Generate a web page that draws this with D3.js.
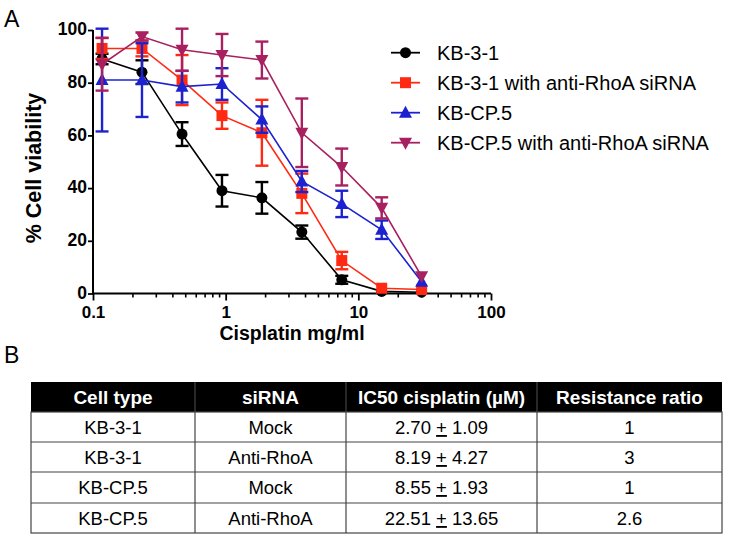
<!DOCTYPE html>
<html>
<head>
<meta charset="utf-8">
<script src="https://cdn.jsdelivr.net/npm/d3@7"></script>
<style>
  body { margin: 0; background: #fff; }
  svg { display: block; }
</style>
</head>
<body>
<svg id="chart" width="729" height="540"></svg>
<script>
// ---------- data ----------
const doses = [0.117, 0.234, 0.469, 0.938, 1.875, 3.75, 7.5, 15, 30];
const seriesNames = ["KB-3-1", "KB-3-1 with anti-RhoA siRNA", "KB-CP.5", "KB-CP.5 with anti-RhoA siRNA"];
const kb31      = [89, 84, 60.5, 39, 36.3, 23.3, 5.2, 0.8, 0.5];
const kb31Err   = [2, 4.5, 4.5, 6, 6, 2.5, 1.5, 0.5, 0.5];
const kb31si    = [93, 93, 81, 67.5, 61, 38, 12.5, 2, 1.5];
const kb31siErr = [4, 3, 9.5, 5, 12.5, 7.5, 3.3, 0.5, 0.5];
const kbcp      = [81, 81, 78.5, 79.5, 66, 42.5, 34, 24.2, 4.5];
const kbcpErr   = [19.5, 14, 6, 6, 5, 4, 5, 3.5, 1];
const kbcpsi    = [87, 97.5, 92.5, 90.5, 88.6, 61, 48, 32.5, 6.5];
const kbcpsiErr = [10, 1.5, 8, 8, 7, 13, 7, 4, 1];
const xTickValues = [0.1, 1, 10, 100];
const xTickLabels = ["0.1", "1", "10", "100"];
const yTickValues = [0, 20, 40, 60, 80, 100];

const tableHeader = ["Cell type", "siRNA", "IC50 cisplatin (\u00B5M)", "Resistance ratio"];
const tableCellType = ["KB-3-1", "KB-3-1", "KB-CP.5", "KB-CP.5"];
const tableSiRNA = ["Mock", "Anti-RhoA", "Mock", "Anti-RhoA"];
const tableIC50Mean = ["2.70", "8.19", "8.55", "22.51"];
const tableIC50Err = ["1.09", "4.27", "1.93", "13.65"];
const tableRatio = ["1", "3", "1", "2.6"];

// ---------- styling ----------
const colors = ["#000000", "#ff2a12", "#1c22cf", "#a8205f"];
const shapes = ["circle", "square", "triangleUp", "triangleDown"];
const values = [kb31, kb31si, kbcp, kbcpsi];
const errors = [kb31Err, kb31siErr, kbcpErr, kbcpsiErr];

const svg = d3.select("#chart");
const font = "'Liberation Sans', Arial, sans-serif";
const narrow = "'Liberation Sans Narrow', 'Arial Narrow', 'Liberation Sans', Arial, sans-serif";

const x = d3.scaleLog().domain([0.1, 100]).range([93, 491]);
const y = d3.scaleLinear().domain([0, 100]).range([293.5, 30]);

// panel labels
svg.append("text").attr("x", 4).attr("y", 27).attr("font-family", font)
  .attr("font-size", 23).text("A");
svg.append("text").attr("x", 4).attr("y", 363).attr("font-family", font)
  .attr("font-size", 23).text("B");

// ---------- axes ----------
const xAxis = d3.axisBottom(x)
  .tickValues(xTickValues)
  .tickFormat((d, i) => xTickLabels[i])
  .tickSize(7).tickPadding(5.5);
const gx = svg.append("g").attr("transform", `translate(0,${y(0)})`).call(xAxis);
// minor ticks
const minor = [];
for (let e = -1; e < 2; e++) for (let m = 2; m <= 9; m++) minor.push(m * Math.pow(10, e));
gx.selectAll(".minor").data(minor).enter().append("line")
  .attr("x1", d => x(d)).attr("x2", d => x(d)).attr("y1", 0).attr("y2", 4)
  .attr("stroke", "#000").attr("stroke-width", 1.6);
gx.select(".domain").attr("d", `M${x(0.1)},0H${x(100)}`).attr("stroke-width", 2);
gx.selectAll(".tick line").attr("stroke-width", 1.8);
gx.selectAll(".tick text").attr("font-family", font).attr("font-weight", "bold")
  .attr("font-size", 17).attr("fill", "#000");

const yAxis = d3.axisLeft(y).tickValues(yTickValues).tickFormat(d3.format("d"))
  .tickSize(5).tickPadding(1);
const gy = svg.append("g").attr("transform", `translate(${x(0.1)},0)`).call(yAxis);
gy.select(".domain").attr("d", `M0,${y(0)}V${y(100)}`).attr("stroke-width", 2);
gy.selectAll(".tick line").attr("stroke-width", 1.8);
gy.selectAll(".tick text").attr("font-family", font).attr("font-weight", "bold")
  .attr("font-size", 17.5).attr("fill", "#000").attr("dy", "0.27em");

// axis titles
svg.append("text").attr("x", 292).attr("y", 340).attr("text-anchor", "middle")
  .attr("font-family", font).attr("font-weight", "bold").attr("font-size", 19.5)
  .text("Cisplatin mg/ml");
svg.append("text").attr("transform", "translate(41,168) rotate(-90)")
  .attr("text-anchor", "middle").attr("font-family", font).attr("font-weight", "bold")
  .attr("font-size", 21.5).text("% Cell viability");

// ---------- marker helper ----------
function drawMarker(g, shape, cx, cy, color) {
  if (shape === "circle") {
    g.append("circle").attr("cx", cx).attr("cy", cy).attr("r", 5.5).attr("fill", color);
  } else if (shape === "square") {
    g.append("rect").attr("x", cx - 5.5).attr("y", cy - 5.5).attr("width", 11).attr("height", 11).attr("fill", color);
  } else if (shape === "triangleUp") {
    g.append("path").attr("d", `M${cx},${cy - 7}L${cx + 6.5},${cy + 5}L${cx - 6.5},${cy + 5}Z`).attr("fill", color);
  } else {
    g.append("path").attr("d", `M${cx},${cy + 7}L${cx + 6.5},${cy - 5}L${cx - 6.5},${cy - 5}Z`).attr("fill", color);
  }
}

// ---------- series ----------
const line = d3.line().x(d => x(d[0])).y(d => y(d[1]));
values.forEach((vals, si) => {
  const g = svg.append("g");
  const color = colors[si];
  const pts = doses.map((d, i) => [d, vals[i], errors[si][i]]);
  g.append("path").datum(pts).attr("d", line).attr("fill", "none")
    .attr("stroke", color).attr("stroke-width", 1.6);
  pts.forEach(p => {
    const cx = x(p[0]);
    const yt = y(p[1] + p[2]), yb = y(p[1] - p[2]);
    if (p[2] > 1.2) {
      g.append("line").attr("x1", cx).attr("x2", cx).attr("y1", yt).attr("y2", yb)
        .attr("stroke", color).attr("stroke-width", 2.4);
      [yt, yb].forEach(yy => g.append("line").attr("x1", cx - 6.5).attr("x2", cx + 6.5)
        .attr("y1", yy).attr("y2", yy).attr("stroke", color).attr("stroke-width", 2.4));
    }
    drawMarker(g, shapes[si], cx, y(p[1]), color);
  });
});

// ---------- legend ----------
const legend = svg.append("g");
seriesNames.forEach((name, i) => {
  const ly = 52.7 + i * 30;
  legend.append("line").attr("x1", 391).attr("x2", 420).attr("y1", ly).attr("y2", ly)
    .attr("stroke", colors[i]).attr("stroke-width", 1.8);
  drawMarker(legend, shapes[i], 405.5, ly, colors[i]);
  legend.append("text").attr("x", 437).attr("y", ly + 7).attr("font-family", font)
    .attr("font-size", 20).text(name);
});

// ---------- table ----------
const colX = [31, 195, 346, 537, 722];
const rowY = [382, 412, 442, 472, 503, 533];
const tbl = svg.append("g");
tbl.append("rect").attr("x", colX[0]).attr("y", rowY[0]).attr("width", colX[4] - colX[0])
  .attr("height", rowY[1] - rowY[0]).attr("fill", "#000");
tableHeader.forEach((h, c) => {
  tbl.append("text").attr("x", (colX[c] + colX[c + 1]) / 2).attr("y", rowY[0] + 22)
    .attr("text-anchor", "middle").attr("font-family", narrow).attr("font-weight", "bold")
    .attr("font-size", 19).attr("fill", "#fff").text(h);
});
// grid
tbl.append("rect").attr("x", colX[0]).attr("y", rowY[1]).attr("width", colX[4] - colX[0])
  .attr("height", rowY[5] - rowY[1]).attr("fill", "none").attr("stroke", "#444").attr("stroke-width", 1.2);
rowY.slice(2, 5).forEach(yy => tbl.append("line").attr("x1", colX[0]).attr("x2", colX[4])
  .attr("y1", yy).attr("y2", yy).attr("stroke", "#444").attr("stroke-width", 1.2));
colX.slice(1, 4).forEach(xx => tbl.append("line").attr("x1", xx).attr("x2", xx)
  .attr("y1", rowY[0]).attr("y2", rowY[5]).attr("stroke", "#444").attr("stroke-width", 1.2));

for (let r = 0; r < 4; r++) {
  const ty = rowY[r + 1] + 22;
  const cells = [tableCellType[r], tableSiRNA[r], null, tableRatio[r]];
  cells.forEach((t, c) => {
    const cxm = (colX[c] + colX[c + 1]) / 2;
    const tx = tbl.append("text").attr("x", cxm).attr("y", ty).attr("text-anchor", "middle")
      .attr("font-family", narrow).attr("font-size", 18.5).attr("fill", "#000");
    if (t !== null) tx.text(t);
    else {
      tx.append("tspan").text(tableIC50Mean[r] + " ");
      tx.append("tspan").attr("text-decoration", "underline").text("+");
      tx.append("tspan").text(" " + tableIC50Err[r]);
    }
  });
}
</script>
</body>
</html>
